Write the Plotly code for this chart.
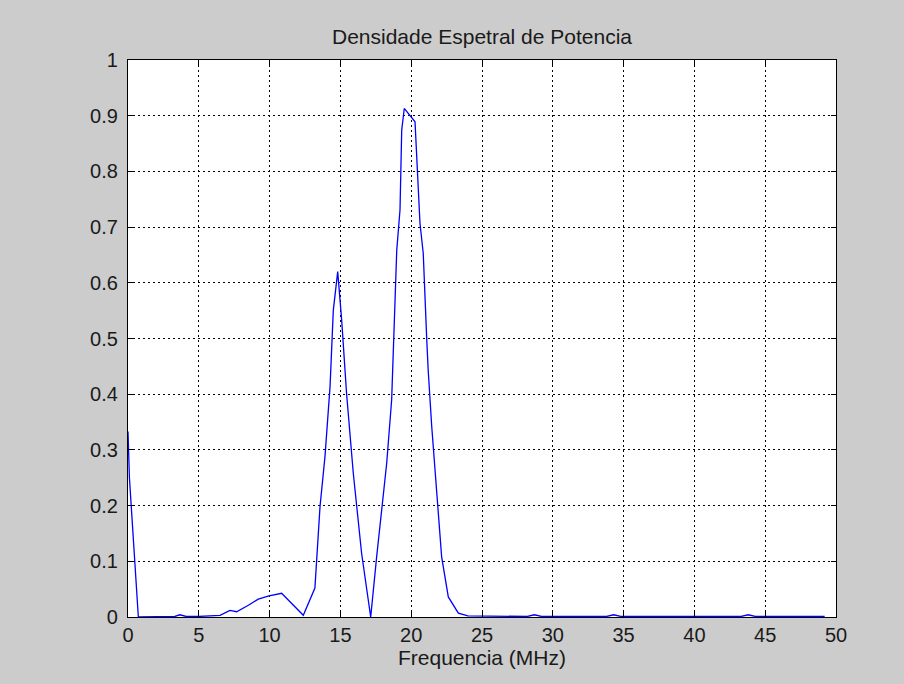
import plotly.graph_objects as go

freq_mhz = [0.0, 0.1, 0.73, 2.5, 3.3, 3.67, 4.1, 5.0, 6.5, 7.2, 7.67, 8.5, 9.2, 9.96, 10.85,
            12.38, 13.2, 13.56, 13.91, 14.27, 14.5, 14.81, 15.09, 15.44, 15.91, 16.5, 17.14,
            17.56, 17.92, 18.27, 18.62, 18.75, 18.98, 19.21, 19.33, 19.51, 19.8, 20.27, 20.62,
            20.85, 21.1, 21.2, 21.45, 21.8, 22.15, 22.62, 23.33, 24.0, 28.2, 28.7, 29.2,
            33.8, 34.3, 34.8, 43.3, 43.8, 44.3, 49.2]
psd = [0.333, 0.25, 0.0, 0.0, 0.001, 0.004, 0.001, 0.001, 0.003, 0.012, 0.0095, 0.021, 0.032,
       0.038, 0.0425, 0.003, 0.052, 0.198, 0.288, 0.414, 0.551, 0.62, 0.533, 0.40, 0.258,
       0.114, 0.0, 0.108, 0.198, 0.276, 0.39, 0.49, 0.659, 0.731, 0.874, 0.913, 0.904, 0.889,
       0.707, 0.653, 0.497, 0.443, 0.342, 0.216, 0.108, 0.036, 0.007, 0.002, 0.001, 0.004,
       0.001, 0.001, 0.004, 0.001, 0.001, 0.004, 0.001, 0.001]

x_ticks = [0, 5, 10, 15, 20, 25, 30, 35, 40, 45, 50]
y_ticks = [0, 0.1, 0.2, 0.3, 0.4, 0.5, 0.6, 0.7, 0.8, 0.9, 1]
y_tick_text = ["0", "0.1", "0.2", "0.3", "0.4", "0.5", "0.6", "0.7", "0.8", "0.9", "1"]

fig = go.Figure()
fig.add_trace(go.Scatter(x=freq_mhz, y=psd, mode="lines",
                         line=dict(color="#0000ff", width=1.3), showlegend=False))

fam = "Liberation Sans, Arial, sans-serif"
tick_font = dict(family=fam, size=20, color="#1a1a1a")
label_font = dict(family=fam, size=21, color="#1a1a1a")
title_font = dict(family=fam, size=21, color="#1a1a1a")
axis_common = dict(
    showline=True, linecolor="black", linewidth=1.2, mirror="ticks",
    ticks="inside", ticklen=5, tickcolor="black", tickwidth=1,
    showgrid=True, gridcolor="black", gridwidth=1, griddash="2px,3px",
    zeroline=False, tickfont=tick_font,
)
fig.update_layout(
    width=904, height=684,
    paper_bgcolor="#cccccc", plot_bgcolor="white",
    margin=dict(l=128, r=68, t=60, b=67),
    title=dict(text="Densidade Espetral de Potencia", x=(128 + 836) / 2 / 904, xanchor="center",
               y=1 - 37 / 684, yanchor="middle", font=title_font),
    xaxis=dict(range=[0, 50], tickvals=x_ticks, ticktext=[str(v) for v in x_ticks],
               title=dict(text="Frequencia (MHz)", font=label_font, standoff=2), **axis_common),
    yaxis=dict(range=[0, 1], tickvals=y_ticks, ticktext=y_tick_text,
               ticklabelstandoff=5, **axis_common),
)
fig.write_html("out.html", config={"displayModeBar": False})

with open("out.html", "r", encoding="utf-8") as f:
    html = f.read()
html = html.replace("<head>", "<head><style>html,body{margin:0;padding:0;overflow:hidden;}</style>", 1)
with open("out.html", "w", encoding="utf-8") as f:
    f.write(html)
